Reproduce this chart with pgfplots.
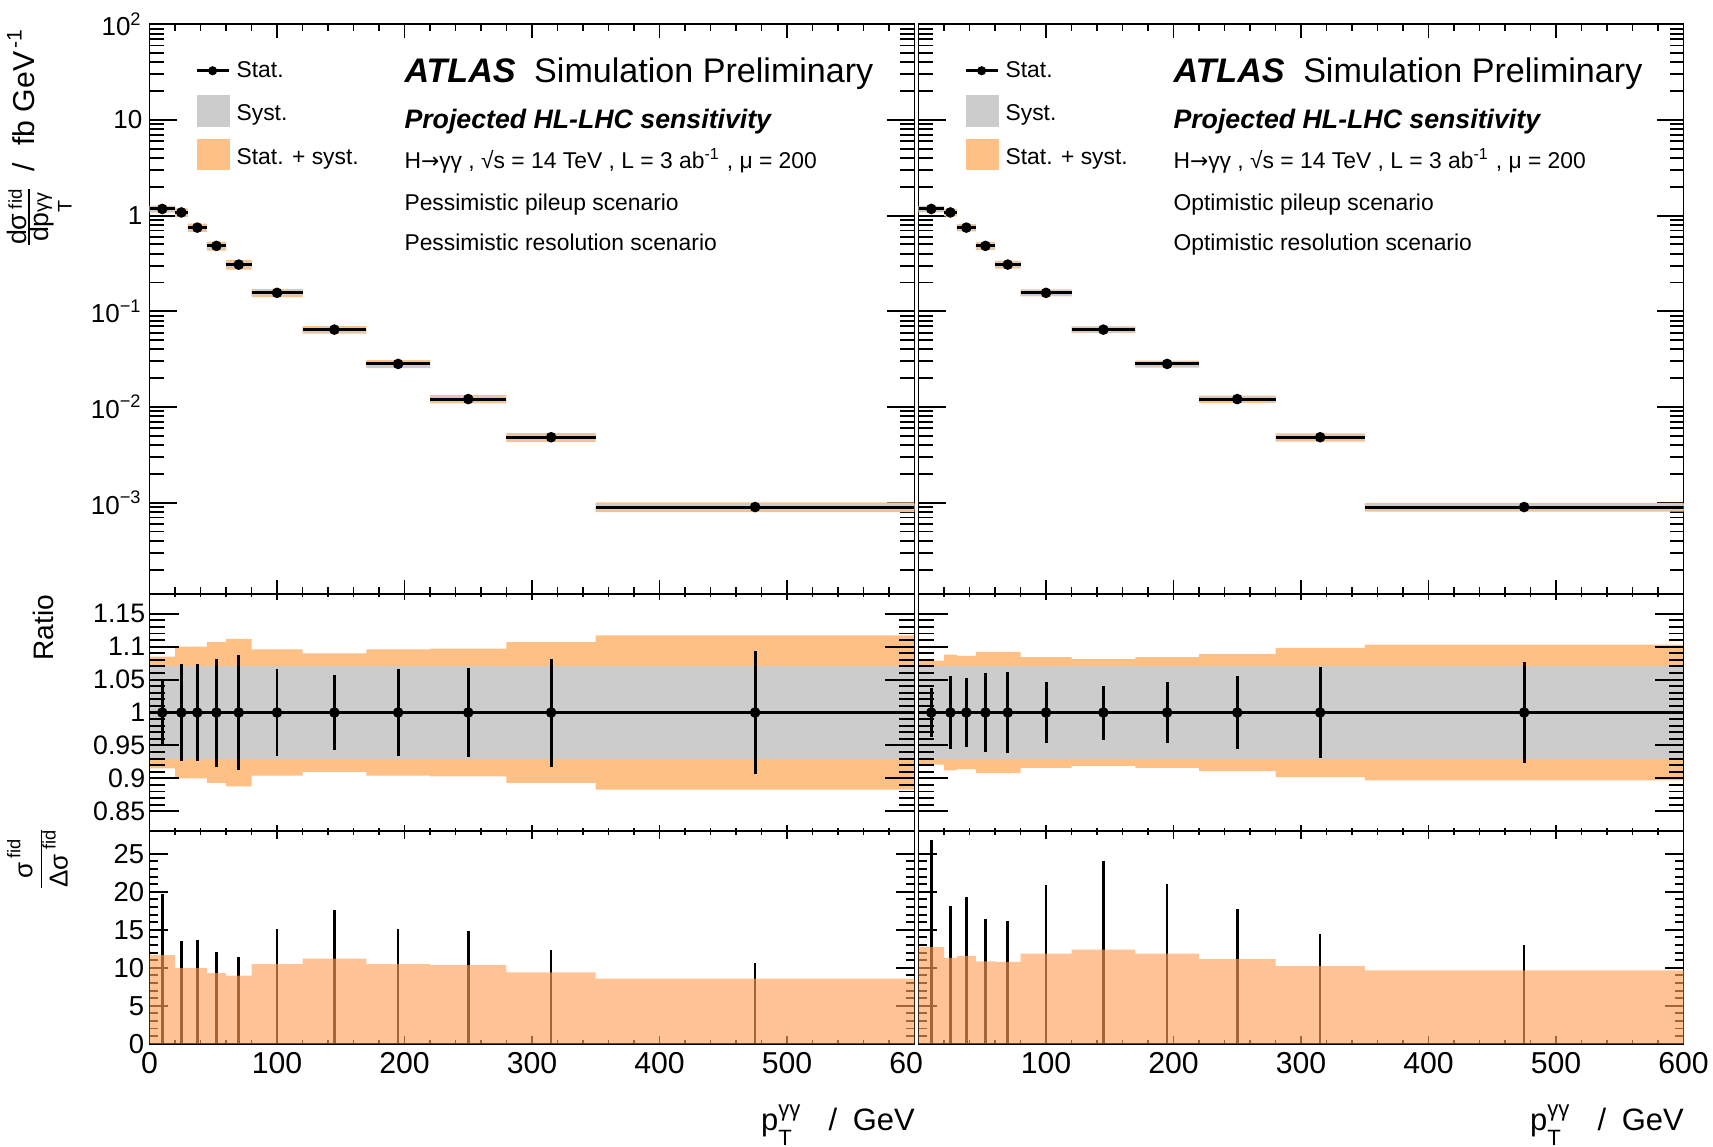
\documentclass[border=0pt]{standalone}
\usepackage{pgfplots}
\pgfplotsset{compat=1.18}
\usepackage{pgfplotstable}
\usepackage{fontspec}
\setmainfont{Liberation Sans}
\newfontfamily\dv{DejaVu Sans}

\definecolor{systc}{RGB}{204,204,204}
\definecolor{totc}{RGB}{255,192,133}
\definecolor{totb}{RGB}{255,160,88}

% xlo = lower bin edge, xc = bin centre, y = dsigma/dpT [fb/GeV]
% st = rel. stat. unc., tot = rel. stat.+syst. unc.
% bst, btot = sigma/Delta sigma (stat., stat.+syst.)
\pgfplotstableread{
xlo  xc    y        st     tot    bst    btot
0    10    1.175    0.050  0.085  19.7   11.67
20   25    1.08     0.074  0.100  13.56  9.96
30   37.5  0.75     0.073  0.100  13.6   9.96
45   52.5  0.483    0.082  0.107  12.07  9.3
60   70    0.308    0.088  0.112  11.4   8.95
80   100   0.156    0.066  0.096  15.09  10.49
120  145   0.0644   0.057  0.090  17.55  11.19
170  195   0.0282   0.066  0.096  15.1   10.49
220  250   0.0121   0.067  0.097  14.87  10.36
280  315   0.00483  0.082  0.107  12.33  9.39
350  475   0.00090  0.094  0.117  10.66  8.56
600  nan   0.00090  nan    0.117  nan    8.56
}\pess

\pgfplotstableread{
xlo  xc    y        st     tot    bst    btot
0    10    1.175    0.037  0.079  26.77  12.73
20   25    1.08     0.055  0.088  18.1   11.29
30   37.5  0.75     0.052  0.086  19.25  11.55
45   52.5  0.483    0.060  0.092  16.45  10.85
60   70    0.308    0.062  0.092  16.14  10.76
80   100   0.156    0.047  0.084  20.9   11.86
120  145   0.0644   0.041  0.081  24.07  12.38
170  195   0.0282   0.047  0.084  21.0   11.86
220  250   0.0121   0.055  0.089  17.8   11.12
280  315   0.00483  0.069  0.098  14.49  10.2
350  475   0.00090  0.076  0.103  13.04  9.67
600  nan   0.00090  nan    0.103  nan    9.67
}\opti

% ratio-panel band outline: upper edge left->right (s=+1), lower edge right->left (s=-1)
\pgfplotstableread{
x    e      s
0    0.085  1
20   0.100  1
30   0.100  1
45   0.107  1
60   0.112  1
80   0.096  1
120  0.090  1
170  0.096  1
220  0.097  1
280  0.107  1
350  0.117  1
600  0.117  1
600  0.117  -1
350  0.107  -1
280  0.097  -1
220  0.096  -1
170  0.090  -1
120  0.096  -1
80   0.112  -1
60   0.107  -1
45   0.100  -1
30   0.100  -1
20   0.085  -1
0    0.085  -1
}\pband

\pgfplotstableread{
x    e      s
0    0.079  1
20   0.088  1
30   0.086  1
45   0.092  1
60   0.092  1
80   0.084  1
120  0.081  1
170  0.084  1
220  0.089  1
280  0.098  1
350  0.103  1
600  0.103  1
600  0.103  -1
350  0.098  -1
280  0.089  -1
220  0.084  -1
170  0.081  -1
120  0.084  -1
80   0.092  -1
60   0.092  -1
45   0.086  -1
30   0.088  -1
20   0.079  -1
0    0.079  -1
}\oband

% one box per bin for the top panels (corners; nan rows separate the boxes)
\pgfplotstableread{
x    y        e      s
0    1.175    0.085  1
20   1.175    0.085  1
20   1.175    0.085  -1
0    1.175    0.085  -1
nan  nan      nan    nan
20   1.08     0.100  1
30   1.08     0.100  1
30   1.08     0.100  -1
20   1.08     0.100  -1
nan  nan      nan    nan
30   0.75     0.100  1
45   0.75     0.100  1
45   0.75     0.100  -1
30   0.75     0.100  -1
nan  nan      nan    nan
45   0.483    0.107  1
60   0.483    0.107  1
60   0.483    0.107  -1
45   0.483    0.107  -1
nan  nan      nan    nan
60   0.308    0.112  1
80   0.308    0.112  1
80   0.308    0.112  -1
60   0.308    0.112  -1
nan  nan      nan    nan
80   0.156    0.096  1
120  0.156    0.096  1
120  0.156    0.096  -1
80   0.156    0.096  -1
nan  nan      nan    nan
120  0.0644   0.090  1
170  0.0644   0.090  1
170  0.0644   0.090  -1
120  0.0644   0.090  -1
nan  nan      nan    nan
170  0.0282   0.096  1
220  0.0282   0.096  1
220  0.0282   0.096  -1
170  0.0282   0.096  -1
nan  nan      nan    nan
220  0.0121   0.097  1
280  0.0121   0.097  1
280  0.0121   0.097  -1
220  0.0121   0.097  -1
nan  nan      nan    nan
280  0.00483  0.107  1
350  0.00483  0.107  1
350  0.00483  0.107  -1
280  0.00483  0.107  -1
nan  nan      nan    nan
350  0.00090  0.117  1
600  0.00090  0.117  1
600  0.00090  0.117  -1
350  0.00090  0.117  -1
}\pboxes

\pgfplotstableread{
x    y        e      s
0    1.175    0.079  1
20   1.175    0.079  1
20   1.175    0.079  -1
0    1.175    0.079  -1
nan  nan      nan    nan
20   1.08     0.088  1
30   1.08     0.088  1
30   1.08     0.088  -1
20   1.08     0.088  -1
nan  nan      nan    nan
30   0.75     0.086  1
45   0.75     0.086  1
45   0.75     0.086  -1
30   0.75     0.086  -1
nan  nan      nan    nan
45   0.483    0.092  1
60   0.483    0.092  1
60   0.483    0.092  -1
45   0.483    0.092  -1
nan  nan      nan    nan
60   0.308    0.092  1
80   0.308    0.092  1
80   0.308    0.092  -1
60   0.308    0.092  -1
nan  nan      nan    nan
80   0.156    0.084  1
120  0.156    0.084  1
120  0.156    0.084  -1
80   0.156    0.084  -1
nan  nan      nan    nan
120  0.0644   0.081  1
170  0.0644   0.081  1
170  0.0644   0.081  -1
120  0.0644   0.081  -1
nan  nan      nan    nan
170  0.0282   0.084  1
220  0.0282   0.084  1
220  0.0282   0.084  -1
170  0.0282   0.084  -1
nan  nan      nan    nan
220  0.0121   0.089  1
280  0.0121   0.089  1
280  0.0121   0.089  -1
220  0.0121   0.089  -1
nan  nan      nan    nan
280  0.00483  0.098  1
350  0.00483  0.098  1
350  0.00483  0.098  -1
280  0.00483  0.098  -1
nan  nan      nan    nan
350  0.00090  0.103  1
600  0.00090  0.103  1
600  0.00090  0.103  -1
350  0.00090  0.103  -1
}\oboxes

\newcommand{\fs}[1]{\fontsize{#1}{#1}\selectfont}

\pgfplotsset{
  atl/.style={scale only axis, width=76.5mm, xmin=0, xmax=600,
    xtick={0,100,200,300,400,500,600}, minor x tick num=4,
    axis line style={line width=0.55pt},
    every tick/.append style={line width=0.55pt, black},
    /pgf/number format/assume math mode=true},
  xtl/.style 2 args={xtick style={/pgfplots/major tick length=#1,/pgfplots/minor tick length=#2}},
  ytl/.style 2 args={ytick style={/pgfplots/major tick length=#1,/pgfplots/minor tick length=#2}},
  logminor/.style={minor ytick={2e-4,3e-4,4e-4,5e-4,6e-4,7e-4,8e-4,9e-4,
    2e-3,3e-3,4e-3,5e-3,6e-3,7e-3,8e-3,9e-3,
    0.02,0.03,0.04,0.05,0.06,0.07,0.08,0.09,
    0.2,0.3,0.4,0.5,0.6,0.7,0.8,0.9,
    2,3,4,5,6,7,8,9,20,30,40,50,60,70,80,90}},
  toppanel/.style={atl, height=56.97mm, ymin=1.11e-4, ymax=100,
    xticklabels={}, ytick={1e-3,1e-2,1e-1,1,10,100}, logminor,
    xtl={1.4mm}{0.7mm}, ytl={2.7mm}{1.4mm},
    yticklabel style={font=\fs{7.4}, xshift=1.5pt},
    legend cell align=left,
    legend style={at={(0.0616,0.9433)}, anchor=north west, draw=none, fill=none,
      inner sep=0pt, outer sep=0pt, row sep=3.4pt, nodes={inner sep=0pt},
      font=\fs{6.5}}},
  ratiopanel/.style={atl, height=23.7mm, ymin=0.82, ymax=1.18,
    ytick={0.85,0.9,0.95,1,1.05,1.1,1.15}, minor y tick num=4,
    xticklabels={}, axis on top,
    xtl={0.6mm}{0.3mm}, ytl={2.9mm}{1.5mm},
    yticklabel style={font=\fs{7.6}, xshift=2.3pt}},
  botpanel/.style={atl, height=21.27mm, ymin=0, ymax=28,
    ytick={0,5,10,15,20,25}, minor y tick num=4,
    xtl={0.77mm}{0.4mm}, ytl={1.88mm}{0.88mm},
    yticklabel style={font=\fs{7.8}, xshift=2.0pt},
    xticklabel style={font=\fs{8.6}, yshift=1.2pt}},
  olegend/.style={legend image code/.code={\path[draw=none,fill=none,use as bounding box] (0mm,-1.565mm) rectangle (4.0mm,1.565mm);
      \path[draw=none,fill=totc] (0mm,-1.115mm) rectangle (3.34mm,2.015mm);}},
  glegend/.style={legend image code/.code={\path[draw=none,fill=none,use as bounding box] (0mm,-1.565mm) rectangle (4.0mm,1.565mm);
      \path[draw=none,fill=systc] (0mm,-1.115mm) rectangle (3.34mm,2.015mm);}},
  slegend/.style={legend image code/.code={\path[draw=none,fill=none,use as bounding box] (0mm,-1.565mm) rectangle (4.0mm,1.565mm);
      \path[draw=black, fill=none, line width=0.85pt] (0mm,0.15mm) -- (3.2mm,0.15mm);
      \path[draw=none, fill=black] (1.6mm,0.15mm) circle (1.3pt);}},
  pts/.style={black, only marks, mark=*, mark size=1.3pt,
    error bars/x dir=both, error bars/x explicit, error bars/y dir=both, error bars/y explicit,
    error bars/error mark=none,
    error bars/error bar style={line width=0.85pt, black}},
}

% p_T^{gamma gamma}
\newcommand{\ptgg}[3]{p\rlap{\raisebox{-#2}{\fs{#1}T}}\raisebox{#3}{\fs{#1}γγ}}
\newcommand{\fid}[2]{\raisebox{#2}{\fs{#1}fid}}

\begin{document}
\begin{tikzpicture}
\useasboundingbox (0,0) rectangle (171.3mm,-114.6mm);

% ================= LEFT: top panel =================
\begin{axis}[toppanel, ymode=log, at={(14.95mm,-2.43mm)}, anchor=north west,
  yticklabels={10\textsuperscript{−3},10\textsuperscript{−2},10\textsuperscript{−1},1,10,10\textsuperscript{2}}]
\addlegendimage{slegend}\addlegendentry{Stat.}
\addlegendimage{glegend}\addlegendentry{Syst.}
\addlegendimage{olegend}\addlegendentry{Stat. + syst.}
\addplot[forget plot, unbounded coords=jump, fill=totc, draw=none] table[x=x, y expr=\thisrow{y}*(1+\thisrow{s}*\thisrow{e})]{\pboxes};
\addplot[forget plot, unbounded coords=jump, fill=systc, draw=none] table[x=x, y expr=\thisrow{y}*(1+0.07*\thisrow{s})]{\pboxes};
\addplot[forget plot, pts] table[x=xc, y=y, x error expr=\thisrow{xc}-\thisrow{xlo}, y error expr=\thisrow{y}*\thisrow{st}]{\pess};
\end{axis}

% ================= LEFT: ratio panel =================
\begin{axis}[ratiopanel, at={(14.95mm,-59.4mm)}, anchor=north west]
\addplot[const plot mark left, fill=totc, draw=none] table[x=x, y expr=1+\thisrow{s}*\thisrow{e}]{\pband} -- cycle;
\addplot[fill=systc, draw=none] coordinates {(0,0.93) (600,0.93) (600,1.07) (0,1.07)} -- cycle;
\addplot[pts] table[x=xc, y expr=1, x error expr=\thisrow{xc}-\thisrow{xlo}, y error=st]{\pess};
\end{axis}

% ================= LEFT: bottom panel =================
\begin{axis}[botpanel, at={(14.95mm,-83.1mm)}, anchor=north west,
  xticklabels={0,100,200,300,400,500,60\phantom{0}}]
\addplot[ycomb, black, mark=none, line width=0.75pt] table[x=xc, y=bst]{\pess};
\addplot[const plot mark left, draw=none, fill=totb, fill opacity=0.63] table[x=xlo, y=btot]{\pess} \closedcycle;
\end{axis}

% ================= RIGHT: top panel =================
\begin{axis}[toppanel, ymode=log, at={(91.85mm,-2.43mm)}, anchor=north west, yticklabels={}]
\addlegendimage{slegend}\addlegendentry{Stat.}
\addlegendimage{glegend}\addlegendentry{Syst.}
\addlegendimage{olegend}\addlegendentry{Stat. + syst.}
\addplot[forget plot, unbounded coords=jump, fill=totc, draw=none] table[x=x, y expr=\thisrow{y}*(1+\thisrow{s}*\thisrow{e})]{\oboxes};
\addplot[forget plot, unbounded coords=jump, fill=systc, draw=none] table[x=x, y expr=\thisrow{y}*(1+0.07*\thisrow{s})]{\oboxes};
\addplot[forget plot, pts] table[x=xc, y=y, x error expr=\thisrow{xc}-\thisrow{xlo}, y error expr=\thisrow{y}*\thisrow{st}]{\opti};
\end{axis}

% ================= RIGHT: ratio panel =================
\begin{axis}[ratiopanel, at={(91.85mm,-59.4mm)}, anchor=north west, yticklabels={}]
\addplot[const plot mark left, fill=totc, draw=none] table[x=x, y expr=1+\thisrow{s}*\thisrow{e}]{\oband} -- cycle;
\addplot[fill=systc, draw=none] coordinates {(0,0.93) (600,0.93) (600,1.07) (0,1.07)} -- cycle;
\addplot[pts] table[x=xc, y expr=1, x error expr=\thisrow{xc}-\thisrow{xlo}, y error=st]{\opti};
\end{axis}

% ================= RIGHT: bottom panel =================
\begin{axis}[botpanel, at={(91.85mm,-83.1mm)}, anchor=north west,
  yticklabels={}, xticklabels={,100,200,300,400,500,600}]
\addplot[ycomb, black, mark=none, line width=0.75pt] table[x=xc, y=bst]{\opti};
\addplot[const plot mark left, draw=none, fill=totb, fill opacity=0.63] table[x=xlo, y=btot]{\opti} \closedcycle;
\end{axis}

% ================= texts =================
\foreach \dx/\scen in {0mm/Pessimistic, 76.9mm/Optimistic}{
  \begin{scope}[xshift=\dx]
  \node[anchor=base west, inner sep=0pt, font=\fs{9.7}] at (40.38mm,-8.23mm)
    {\textbf{\textit{ATLAS}}\hspace{5.3pt}Simulation Preliminary};
  \node[anchor=base west, inner sep=0pt, font=\fs{7.6}\bfseries\itshape] at (40.38mm,-12.83mm)
    {Projected HL-LHC sensitivity};
  \node[anchor=base west, inner sep=0pt, font=\fs{6.5}] at (40.38mm,-16.83mm)
    {H{\dv\fs{6.2}→}γγ , √s = 14 TeV , L = 3 ab\textsuperscript{-1} , μ = 200};
  \node[anchor=base west, inner sep=0pt, font=\fs{6.5}] at (40.38mm,-21.0mm)
    {\scen\ pileup scenario};
  \node[anchor=base west, inner sep=0pt, font=\fs{6.5}] at (40.38mm,-25.0mm)
    {\scen\ resolution scenario};
  \node[anchor=base east, inner sep=0pt, font=\fs{8.8}] at (91.55mm,-113.0mm)
    {\ptgg{6.3}{4.3pt}{3.8pt}\hspace{8pt}/\hspace{4.5pt}GeV};
  \end{scope}
}

% y-axis titles
\node[rotate=90, anchor=base east, inner sep=0pt, font=\fs{8.6}] at (3.5mm,-2.7mm)
  {\raisebox{2.4pt}{\fs{7.6}\renewcommand{\arraystretch}{0.85}\begin{tabular}[t]{@{}c@{}}dσ\,\fid{5.3}{1.3pt}\\[-1.5pt]\hline dp\rlap{\raisebox{-6.5pt}{\fs{5.6}T}}\raisebox{0.3pt}{\fs{5.6}γγ}\end{tabular}}\hspace{5pt}/\hspace{5pt}fb GeV\textsuperscript{\,-1}};
\node[rotate=90, inner sep=0pt, font=\fs{8}] at (4.3mm,-62.75mm) {Ratio};
\node[rotate=90, inner sep=0pt, font=\fs{7.4}] at (4.17mm,-85.9mm)
  {\renewcommand{\arraystretch}{1.1}\begin{tabular}{@{}c@{}}σ\,\fid{5.2}{3.4pt}\\\hline Δσ\,\fid{5.2}{3.4pt}\end{tabular}};
\end{tikzpicture}
\end{document}
